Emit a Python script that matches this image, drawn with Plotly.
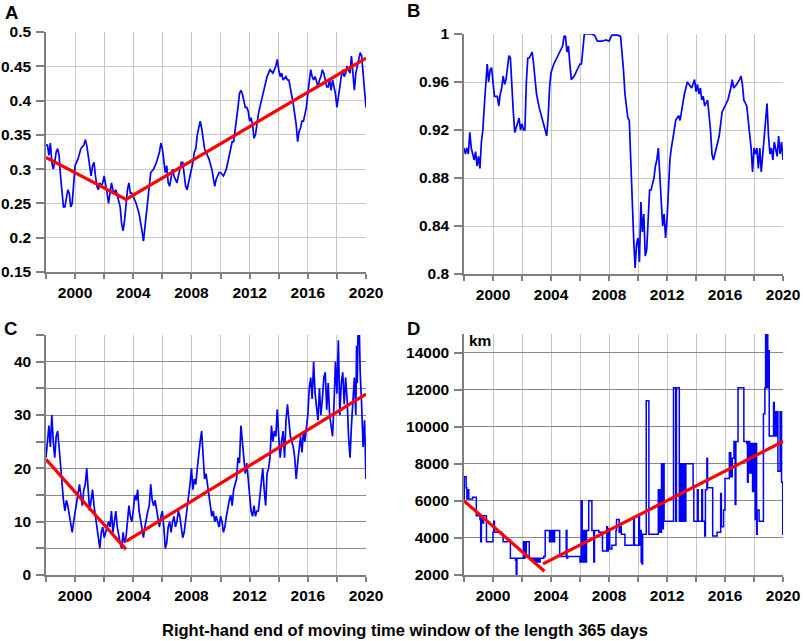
import plotly.graph_objects as go

# ---------------- Panel A ----------------
years_a = [
    1998.0, 1998.1, 1998.2, 1998.3, 1998.4, 1998.5, 1998.6, 1998.7, 1998.8, 1998.9,
    1999.0, 1999.1, 1999.2, 1999.3, 1999.4, 1999.5, 1999.6, 1999.7, 1999.8, 1999.9,
    2000.0, 2000.2, 2000.4, 2000.6, 2000.7, 2000.8, 2000.9,
    2001.0, 2001.1, 2001.2, 2001.3, 2001.4, 2001.5, 2001.6, 2001.7, 2001.8, 2001.9,
    2002.0, 2002.1, 2002.2, 2002.3, 2002.4, 2002.5, 2002.6, 2002.7, 2002.8, 2002.9,
    2003.0, 2003.1, 2003.2, 2003.3, 2003.4, 2003.5, 2003.6, 2003.7, 2003.8, 2003.9,
    2004.0, 2004.2, 2004.4, 2004.5, 2004.6, 2004.7, 2004.8, 2004.9,
    2005.0, 2005.1, 2005.2, 2005.4, 2005.6, 2005.8, 2005.9,
    2006.0, 2006.1, 2006.2, 2006.3, 2006.4, 2006.5, 2006.6, 2006.7, 2006.8, 2006.9,
    2007.0, 2007.1, 2007.2, 2007.3, 2007.4, 2007.5, 2007.6, 2007.7, 2007.8, 2007.9,
    2008.0, 2008.1, 2008.2, 2008.3, 2008.4, 2008.5, 2008.6, 2008.7, 2008.8, 2008.9,
    2009.0, 2009.2, 2009.4, 2009.5, 2009.6, 2009.7, 2009.8, 2009.9,
    2010.0, 2010.2, 2010.4, 2010.5, 2010.6, 2010.7, 2010.8, 2010.9,
    2011.0, 2011.1, 2011.2, 2011.3, 2011.4, 2011.5, 2011.6, 2011.7, 2011.8, 2011.9,
    2012.0, 2012.1, 2012.2, 2012.3, 2012.4, 2012.5, 2012.6, 2012.7, 2012.8, 2012.9,
    2013.0, 2013.2, 2013.4, 2013.6, 2013.8, 2013.9,
    2014.0, 2014.1, 2014.2, 2014.3, 2014.5, 2014.6, 2014.7, 2014.8, 2014.9,
    2015.0, 2015.1, 2015.2, 2015.3, 2015.4, 2015.5, 2015.6, 2015.7, 2015.8, 2015.9,
    2016.0, 2016.1, 2016.2, 2016.3, 2016.4, 2016.5, 2016.6, 2016.7, 2016.8, 2016.9,
    2017.0, 2017.1, 2017.2, 2017.3, 2017.4, 2017.5, 2017.6, 2017.7, 2017.8, 2017.9,
    2018.0, 2018.1, 2018.2, 2018.3, 2018.4, 2018.5, 2018.6, 2018.7, 2018.8, 2018.9,
    2019.0, 2019.1, 2019.2, 2019.3, 2019.4, 2019.5, 2019.6, 2019.7, 2019.8, 2019.9,
    2020.0,
]
values_a = [
    0.335, 0.335, 0.320, 0.338, 0.310, 0.300, 0.310, 0.325, 0.330, 0.320,
    0.290, 0.265, 0.245, 0.245, 0.255, 0.270, 0.265, 0.245, 0.250, 0.275,
    0.305, 0.315, 0.330, 0.335, 0.343, 0.335, 0.320,
    0.300, 0.290, 0.305, 0.310, 0.290, 0.275, 0.270, 0.280, 0.275, 0.280,
    0.290, 0.280, 0.265, 0.250, 0.270, 0.280, 0.270, 0.265, 0.270, 0.260,
    0.255, 0.245, 0.220, 0.210, 0.225, 0.250, 0.270, 0.280, 0.265, 0.265,
    0.260, 0.250, 0.235, 0.225, 0.210, 0.195, 0.215, 0.240,
    0.255, 0.270, 0.295, 0.300, 0.310, 0.325, 0.338,
    0.330, 0.310, 0.295, 0.305, 0.280, 0.275, 0.290, 0.300, 0.290, 0.285,
    0.280, 0.290, 0.300, 0.310, 0.310, 0.290, 0.275, 0.270, 0.280, 0.290,
    0.300, 0.310, 0.325, 0.330, 0.350, 0.360, 0.370, 0.360, 0.345, 0.330,
    0.325, 0.315, 0.300, 0.285, 0.275, 0.285, 0.290, 0.295,
    0.295, 0.290, 0.300, 0.310, 0.320, 0.330, 0.340, 0.340,
    0.355, 0.370, 0.390, 0.410, 0.415, 0.410, 0.400, 0.390, 0.390, 0.385,
    0.370, 0.375, 0.365, 0.345, 0.350, 0.370, 0.380, 0.390, 0.400, 0.410,
    0.420, 0.435, 0.445, 0.440, 0.450, 0.460,
    0.445, 0.435, 0.440, 0.430, 0.435, 0.430, 0.430, 0.420, 0.410,
    0.395, 0.380, 0.365, 0.340, 0.355, 0.360, 0.370, 0.370, 0.380, 0.390,
    0.410, 0.430, 0.445, 0.435, 0.430, 0.435, 0.425, 0.420, 0.430, 0.435,
    0.445, 0.440, 0.430, 0.420, 0.420, 0.430, 0.415, 0.430, 0.420, 0.410,
    0.390, 0.410, 0.420, 0.435, 0.445, 0.435, 0.440, 0.450, 0.445, 0.440,
    0.465, 0.440, 0.415, 0.440, 0.450, 0.455, 0.470, 0.465, 0.440, 0.420,
    0.390,
]
trend_a_years = [1998.0, 2003.5, 2020.0]
trend_a_values = [0.317, 0.256, 0.462]

# ---------------- Panel B ----------------
years_b = [
    1998.0, 1998.1, 1998.2, 1998.3, 1998.4, 1998.5, 1998.6, 1998.7, 1998.8, 1998.9,
    1999.0, 1999.1, 1999.2, 1999.3, 1999.4, 1999.5, 1999.6, 1999.7, 1999.8, 1999.9,
    2000.0, 2000.1, 2000.3, 2000.4, 2000.5, 2000.6, 2000.7, 2000.8, 2000.9,
    2001.0, 2001.1, 2001.2, 2001.3, 2001.4, 2001.5, 2001.6, 2001.7, 2001.8, 2001.9,
    2002.0, 2002.1, 2002.2, 2002.3, 2002.4, 2002.5, 2002.6, 2002.7, 2002.8, 2002.9,
    2003.0, 2003.2, 2003.4, 2003.5, 2003.6, 2003.7, 2003.8, 2003.9,
    2004.0, 2004.2, 2004.4, 2004.6, 2004.8, 2004.9,
    2005.0, 2005.1, 2005.2, 2005.3, 2005.4, 2005.6, 2005.8,
    2006.0, 2006.1, 2006.2, 2006.3, 2006.5, 2006.8,
    2007.0, 2007.2, 2007.5, 2007.8,
    2008.0, 2008.2, 2008.4, 2008.6, 2008.8, 2008.9,
    2009.0, 2009.1, 2009.2, 2009.3, 2009.4, 2009.5, 2009.6, 2009.7, 2009.8, 2009.9,
    2010.0, 2010.1, 2010.2, 2010.3, 2010.4, 2010.5, 2010.6, 2010.7, 2010.8, 2010.9,
    2011.0, 2011.1, 2011.2, 2011.3, 2011.4, 2011.5, 2011.6, 2011.7, 2011.8, 2011.9,
    2012.0, 2012.1, 2012.2, 2012.3, 2012.4, 2012.5, 2012.6, 2012.8, 2012.9,
    2013.0, 2013.2, 2013.4, 2013.5, 2013.7, 2013.9,
    2014.0, 2014.1, 2014.2, 2014.3, 2014.4, 2014.5, 2014.6, 2014.8, 2014.9,
    2015.0, 2015.1, 2015.2, 2015.3, 2015.4, 2015.6, 2015.8,
    2016.0, 2016.2, 2016.4, 2016.5, 2016.6, 2016.8,
    2017.0, 2017.1, 2017.2, 2017.3, 2017.5, 2017.6, 2017.7, 2017.8, 2017.9,
    2018.0, 2018.1, 2018.2, 2018.3, 2018.4, 2018.5, 2018.6, 2018.7, 2018.8, 2018.9,
    2019.0, 2019.1, 2019.2, 2019.3, 2019.4, 2019.5, 2019.6, 2019.7, 2019.8, 2019.9,
    2020.0,
]
values_b = [
    0.905, 0.900, 0.905, 0.900, 0.918, 0.905, 0.900, 0.895, 0.902, 0.890,
    0.898, 0.888, 0.910, 0.920, 0.940, 0.955, 0.975, 0.960, 0.970, 0.972,
    0.962, 0.948, 0.948, 0.940, 0.950, 0.955, 0.965, 0.958, 0.962,
    0.975, 0.982, 0.980, 0.950, 0.935, 0.918, 0.922, 0.925, 0.930, 0.920,
    0.925, 0.920, 0.920, 0.960, 0.980, 0.980, 0.982, 0.985, 0.975, 0.960,
    0.950, 0.938, 0.930, 0.925, 0.920, 0.915, 0.930, 0.955,
    0.968, 0.975, 0.980, 0.985, 0.990, 0.998,
    0.998, 0.985, 0.990, 0.975, 0.962, 0.965, 0.970,
    0.975, 0.975, 0.990, 1.000, 1.000, 1.000,
    0.999, 0.994, 0.994, 0.995,
    0.994, 0.999, 0.999, 0.999, 0.998, 0.985,
    0.970, 0.950, 0.940, 0.930, 0.928, 0.890, 0.860, 0.830, 0.805, 0.825,
    0.830, 0.810, 0.860, 0.835, 0.850, 0.815, 0.820, 0.840, 0.870, 0.870,
    0.875, 0.880, 0.890, 0.895, 0.905, 0.885, 0.865, 0.840, 0.850, 0.830,
    0.845, 0.870, 0.895, 0.905, 0.915, 0.920, 0.928, 0.932, 0.928,
    0.935, 0.950, 0.960, 0.958, 0.955, 0.962,
    0.952, 0.958, 0.950, 0.955, 0.945, 0.948, 0.940, 0.945, 0.935,
    0.920, 0.900, 0.895, 0.900, 0.905, 0.915, 0.935,
    0.940, 0.945, 0.955, 0.962, 0.955, 0.958,
    0.962, 0.965, 0.958, 0.945, 0.940, 0.930, 0.915, 0.905, 0.885,
    0.905, 0.900, 0.905, 0.888, 0.905, 0.885, 0.900, 0.910, 0.930, 0.942,
    0.915, 0.900, 0.905, 0.895, 0.910, 0.905, 0.898, 0.915, 0.900, 0.910,
    0.895,
]

# ---------------- Panel C ----------------
years_c = [
    1998.0, 1998.1, 1998.2, 1998.3, 1998.4, 1998.5, 1998.6, 1998.7, 1998.8, 1998.9,
    1999.0, 1999.1, 1999.2, 1999.3, 1999.4, 1999.5, 1999.6, 1999.7, 1999.8, 1999.9,
    2000.0, 2000.1, 2000.2, 2000.3, 2000.4, 2000.5, 2000.6, 2000.7, 2000.8, 2000.9,
    2001.0, 2001.1, 2001.2, 2001.3, 2001.4, 2001.5, 2001.6, 2001.7, 2001.8, 2001.9,
    2002.0, 2002.1, 2002.2, 2002.3, 2002.4, 2002.5, 2002.6, 2002.7, 2002.8, 2002.9,
    2003.0, 2003.1, 2003.2, 2003.3, 2003.4, 2003.5, 2003.6, 2003.7, 2003.8, 2003.9,
    2004.0, 2004.1, 2004.2, 2004.3, 2004.4, 2004.5, 2004.6, 2004.7, 2004.8, 2004.9,
    2005.0, 2005.1, 2005.2, 2005.3, 2005.4, 2005.5, 2005.6, 2005.7, 2005.8, 2005.9,
    2006.0, 2006.1, 2006.2, 2006.3, 2006.4, 2006.5, 2006.6, 2006.7, 2006.8, 2006.9,
    2007.0, 2007.1, 2007.2, 2007.3, 2007.4, 2007.5, 2007.6, 2007.7, 2007.8, 2007.9,
    2008.0, 2008.1, 2008.2, 2008.3, 2008.4, 2008.5, 2008.6, 2008.7, 2008.8, 2008.9,
    2009.0, 2009.1, 2009.2, 2009.3, 2009.4, 2009.5, 2009.6, 2009.7, 2009.8, 2009.9,
    2010.0, 2010.1, 2010.2, 2010.3, 2010.4, 2010.5, 2010.6, 2010.7, 2010.8, 2010.9,
    2011.0, 2011.1, 2011.2, 2011.3, 2011.4, 2011.5, 2011.6, 2011.7, 2011.8, 2011.9,
    2012.0, 2012.1, 2012.2, 2012.3, 2012.4, 2012.5, 2012.6, 2012.7, 2012.8, 2012.9,
    2013.0, 2013.1, 2013.2, 2013.3, 2013.4, 2013.5, 2013.6, 2013.7, 2013.8, 2013.9,
    2014.0, 2014.1, 2014.2, 2014.3, 2014.4, 2014.5, 2014.6, 2014.7, 2014.8, 2014.9,
    2015.0, 2015.1, 2015.2, 2015.3, 2015.4, 2015.5, 2015.6, 2015.7, 2015.8, 2015.9,
    2016.0, 2016.1, 2016.2, 2016.3, 2016.4, 2016.5, 2016.6, 2016.7, 2016.8, 2016.9,
    2017.0, 2017.1, 2017.2, 2017.3, 2017.4, 2017.5, 2017.6, 2017.7, 2017.8, 2017.9,
    2018.0, 2018.1, 2018.2, 2018.3, 2018.4, 2018.5, 2018.6, 2018.7, 2018.8, 2018.9,
    2019.0, 2019.1, 2019.2, 2019.3, 2019.35, 2019.4, 2019.45, 2019.55, 2019.6, 2019.7,
    2019.8, 2019.9, 2020.0,
]
values_c = [
    22, 26, 28, 24, 30, 25, 22, 26, 27, 24,
    20, 16, 14, 12, 14, 13, 11, 10, 8, 10,
    12, 14, 16, 17, 15, 13, 16, 17, 20, 15,
    12, 14, 16, 13, 11, 8, 6, 5, 8, 9,
    7, 8, 9, 10, 9, 12, 8, 10, 12, 9,
    7, 6, 5, 8, 6, 7, 10, 13, 11, 10,
    12, 15, 14, 16, 12, 10, 8, 7, 9, 11,
    12, 13, 17, 14, 13, 14, 12, 10, 9, 11,
    12, 9, 5, 6, 9, 10, 8, 10, 11, 9,
    10, 12, 11, 9, 7, 8, 10, 12, 14, 17,
    20, 16, 18, 17, 20, 23, 25, 27, 22, 18,
    19, 17, 14, 12, 11, 12, 10, 11, 10, 9,
    11, 10, 8, 9, 11, 13, 14, 15, 13, 16,
    17, 18, 22, 21, 28, 25, 22, 19, 21, 18,
    16, 12, 11, 13, 11, 12, 12, 15, 18, 20,
    16, 13, 19, 20, 22, 28, 25, 27, 26, 31,
    26, 22, 25, 27, 22, 29, 32, 28, 26, 25,
    24, 22, 18, 21, 24, 26, 23, 27, 25, 28,
    30, 35, 37, 33, 40, 34, 31, 29, 35, 30,
    33, 37, 38, 31, 36, 30, 28, 26, 32, 40,
    34, 44, 30, 36, 38, 32, 37, 33, 26, 22,
    28, 33, 37, 30, 43, 36, 45, 45, 38, 32,
    24, 29, 18,
]
trend_c1_years = [1998.0, 2003.5]
trend_c1_values = [21.7, 4.8]
trend_c2_years = [2003.5, 2020.0]
trend_c2_values = [6.3, 33.9]

# ---------------- Panel D (step series, km) ----------------
years_d = [
    1998.00, 1998.02, 1998.15, 1998.20, 1998.28, 1998.33, 1998.60, 1998.85,
    1999.10, 1999.15, 1999.20, 1999.30, 1999.35, 1999.55,
    2000.00, 2000.05, 2000.10, 2000.60, 2000.70, 2001.00, 2001.20, 2001.55,
    2001.60, 2001.65, 2002.10, 2002.15, 2002.20, 2002.25, 2002.30, 2002.50,
    2002.80, 2002.85, 2002.95, 2003.05, 2003.15, 2003.25, 2003.50, 2003.60,
    2003.90, 2003.95, 2004.05, 2004.10, 2004.20, 2004.25, 2004.60, 2005.05,
    2005.10, 2005.15, 2006.00, 2006.08, 2006.15, 2006.20, 2006.25, 2006.30,
    2006.35, 2006.45, 2006.60, 2006.82, 2006.95, 2007.00, 2007.30, 2007.55,
    2007.85, 2007.90, 2007.95, 2008.05, 2008.20, 2008.48, 2008.52, 2008.70,
    2008.80, 2008.85, 2009.10, 2009.70, 2009.75, 2010.05, 2010.10, 2010.15,
    2010.22, 2010.28, 2010.32, 2010.57, 2010.75, 2011.40, 2011.45, 2011.50,
    2011.55, 2011.62, 2011.70, 2011.75, 2011.80, 2012.45, 2012.60, 2012.65,
    2012.85, 2012.95, 2013.05, 2013.12, 2013.20, 2013.30, 2013.80, 2013.85,
    2014.10, 2014.15, 2014.40, 2014.45, 2014.60, 2014.65, 2014.75, 2014.80,
    2015.15, 2015.45, 2015.70, 2015.75, 2015.90, 2016.00, 2016.30, 2016.40,
    2016.50, 2016.62, 2016.70, 2016.75, 2016.90, 2017.30, 2017.50, 2017.55,
    2017.60, 2017.70, 2017.80, 2017.90, 2018.00, 2018.08, 2018.12, 2018.18,
    2018.22, 2018.35, 2018.65, 2018.75, 2018.80, 2018.85, 2018.90, 2018.95,
    2019.00, 2019.05, 2019.35, 2019.40, 2019.45, 2019.50, 2019.55, 2019.65,
    2019.80, 2019.90, 2019.98, 2020.00,
]
values_d = [
    6100, 7300, 6700, 6100, 6600, 6100, 6200, 5200,
    5000, 3800, 5200, 4800, 5200, 3800,
    4300, 4900, 4300, 4200, 3800, 3900, 2900, 2800,
    2000, 2900, 3800, 2900, 3800, 3000, 3800, 2900,
    2700, 2900, 2700, 2900, 2700, 2900, 3000, 4400,
    3800, 4400, 3800, 4400, 3800, 4400, 3000, 4400,
    2900, 3000, 2700, 6000, 2700, 4400, 2700, 4400,
    2700, 4400, 6000, 4400, 2700, 4400, 4300, 3300,
    4600, 3300, 4500, 3400, 3600, 4400, 5000, 4300,
    4600, 4200, 3600, 5000, 3600, 5200, 3600, 4400,
    2700, 2600, 4200, 11400, 4200, 6600, 4300, 6600,
    4300, 8000, 4500, 8000, 4900, 12100, 4900, 12100,
    4900, 8000, 4900, 8000, 4900, 8000, 6700, 4900,
    6600, 4900, 6600, 4900, 4100, 6600, 8300, 6700,
    4100, 4300, 6400, 4600, 5500, 7200, 8600, 7300,
    8300, 9200, 5800, 9200, 12100, 9200, 9100, 7000,
    9200, 7500, 9100, 6500, 9100, 5000, 9100, 4200,
    5500, 4900, 10700, 12100, 15000, 12100, 15000, 12100,
    14100, 9500, 11300, 9500, 10800, 9500, 10800, 7600,
    10800, 7000, 4200, 4200,
]
trend_d1_years = [1998.0, 2003.55]
trend_d1_values = [6000, 2200]
trend_d2_years = [2003.45, 2020.0]
trend_d2_values = [2600, 9200]

# ---------------- Axis labels ----------------
x_tickvals = [1998, 2000, 2002, 2004, 2006, 2008, 2010, 2012, 2014, 2016, 2018, 2020]
x_ticktext = ["", "2000", "", "2004", "", "2008", "", "2012", "", "2016", "", "2020"]
ya_tickvals = [0.15, 0.2, 0.25, 0.3, 0.35, 0.4, 0.45, 0.5]
ya_ticktext = ["0.15", "0.2", "0.25", "0.3", "0.35", "0.4", "0.45", "0.5"]
yb_tickvals = [0.8, 0.84, 0.88, 0.92, 0.96, 1.0]
yb_ticktext = ["0.8", "0.84", "0.88", "0.92", "0.96", "1"]
yc_tickvals = [0, 5, 10, 15, 20, 25, 30, 35, 40, 45]
yc_ticktext = ["0", "", "10", "", "20", "", "30", "", "40", ""]
yd_tickvals = [2000, 4000, 6000, 8000, 10000, 12000, 14000]
yd_ticktext = ["2000", "4000", "6000", "8000", "10000", "12000", "14000"]

panel_labels = ["A", "B", "C", "D"]
x_title = "Right-hand end of moving time window of the length 365 days"
unit_d = "km"

for a, b in [(years_a, values_a), (years_b, values_b), (years_c, values_c), (years_d, values_d)]:
    assert len(a) == len(b), (len(a), len(b))

W, H = 803, 641
FONT = "Liberation Sans, Arial, sans-serif"
BLUE = "#0000ff"
RED = "#ff0000"

fig = go.Figure()
blue = dict(color=BLUE, width=1.7)
red = dict(color=RED, width=3.2)

fig.add_trace(go.Scatter(x=years_a, y=values_a, mode="lines", line=blue, xaxis="x", yaxis="y"))
fig.add_trace(go.Scatter(x=trend_a_years, y=trend_a_values, mode="lines", line=red, xaxis="x", yaxis="y"))
fig.add_trace(go.Scatter(x=years_b, y=values_b, mode="lines", line=blue, xaxis="x2", yaxis="y2"))
fig.add_trace(go.Scatter(x=years_c, y=values_c, mode="lines", line=blue, xaxis="x3", yaxis="y3"))
fig.add_trace(go.Scatter(x=trend_c1_years, y=trend_c1_values, mode="lines", line=red, xaxis="x3", yaxis="y3"))
fig.add_trace(go.Scatter(x=trend_c2_years, y=trend_c2_values, mode="lines", line=red, xaxis="x3", yaxis="y3"))
fig.add_trace(go.Scatter(x=years_d, y=values_d, mode="lines", line=dict(color=BLUE, width=1.5, shape="hv"),
                         xaxis="x4", yaxis="y4"))
fig.add_trace(go.Scatter(x=trend_d1_years, y=trend_d1_values, mode="lines", line=red, xaxis="x4", yaxis="y4"))
fig.add_trace(go.Scatter(x=trend_d2_years, y=trend_d2_values, mode="lines", line=red, xaxis="x4", yaxis="y4"))

tickfont = dict(family=FONT, size=15.5, color="black", weight="bold")


def xax(dom, anchor):
    return dict(domain=dom, anchor=anchor, range=[1998, 2020], tickmode="array",
                tickvals=x_tickvals, ticktext=x_ticktext, showgrid=True, gridcolor="#c8c8c8",
                gridwidth=1, showline=True, linecolor="#7f7f7f", linewidth=1.5, ticks="outside",
                ticklen=5, tickcolor="#7f7f7f", tickwidth=1.5, zeroline=False, tickfont=tickfont,
                automargin=False, fixedrange=True, ticklabelstandoff=1)


def yax(dom, anchor, rng, tv, tt, gridcolor):
    return dict(domain=dom, anchor=anchor, range=rng, tickmode="array", tickvals=tv, ticktext=tt,
                showgrid=True, gridcolor=gridcolor, gridwidth=1, showline=True, linecolor="#7f7f7f",
                linewidth=1.5, ticks="outside", ticklen=8, tickcolor="#7f7f7f", tickwidth=1.5,
                zeroline=False, tickfont=tickfont, automargin=False, fixedrange=True,
                ticklabelstandoff=2)


xl = [46 / W, 366 / W]
xr = [464 / W, 783 / W]
fig.update_layout(
    width=W, height=H,
    margin=dict(l=0, r=0, t=0, b=0),
    paper_bgcolor="white", plot_bgcolor="white",
    showlegend=False,
    xaxis=xax(xl, "y"),
    yaxis=yax([1 - 272 / H, 1 - 32 / H], "x", [0.15, 0.5], ya_tickvals, ya_ticktext, "#c8c8c8"),
    xaxis2=xax(xr, "y2"),
    yaxis2=yax([1 - 274 / H, 1 - 34 / H], "x2", [0.8, 1.0], yb_tickvals, yb_ticktext, "#c8c8c8"),
    xaxis3=xax(xl, "y3"),
    yaxis3=yax([1 - 575 / H, 1 - 335 / H], "x3", [0, 45], yc_tickvals, yc_ticktext, "#8a8a8a"),
    xaxis4=xax(xr, "y4"),
    yaxis4=yax([1 - 575 / H, 1 - 334 / H], "x4", [2000, 15000], yd_tickvals, yd_ticktext, "#8a8a8a"),
)

label_pos = [(3, 12), (405, 11), (2, 328), (405, 328)]
for txt, (px, py) in zip(panel_labels, label_pos):
    fig.add_annotation(text=txt, x=px / W, y=1 - py / H, xref="paper", yref="paper",
                       xanchor="left", yanchor="middle", showarrow=False,
                       font=dict(family=FONT, size=18.5, color="black", weight="bold"))

fig.add_annotation(text=unit_d, x=467 / W, y=1 - 340 / H, xref="paper", yref="paper",
                   xanchor="left", yanchor="middle", showarrow=False,
                   font=dict(family=FONT, size=15.5, color="black", weight="bold"))

fig.add_annotation(text=x_title, x=405 / W, y=1 - 630 / H, xref="paper", yref="paper",
                   xanchor="center", yanchor="middle", showarrow=False,
                   font=dict(family=FONT, size=16.5, color="black", weight="bold"))

fig.write_html("out.html", config={"displayModeBar": False},
               post_script="document.body.style.margin='0px';document.body.style.padding='0px';")
